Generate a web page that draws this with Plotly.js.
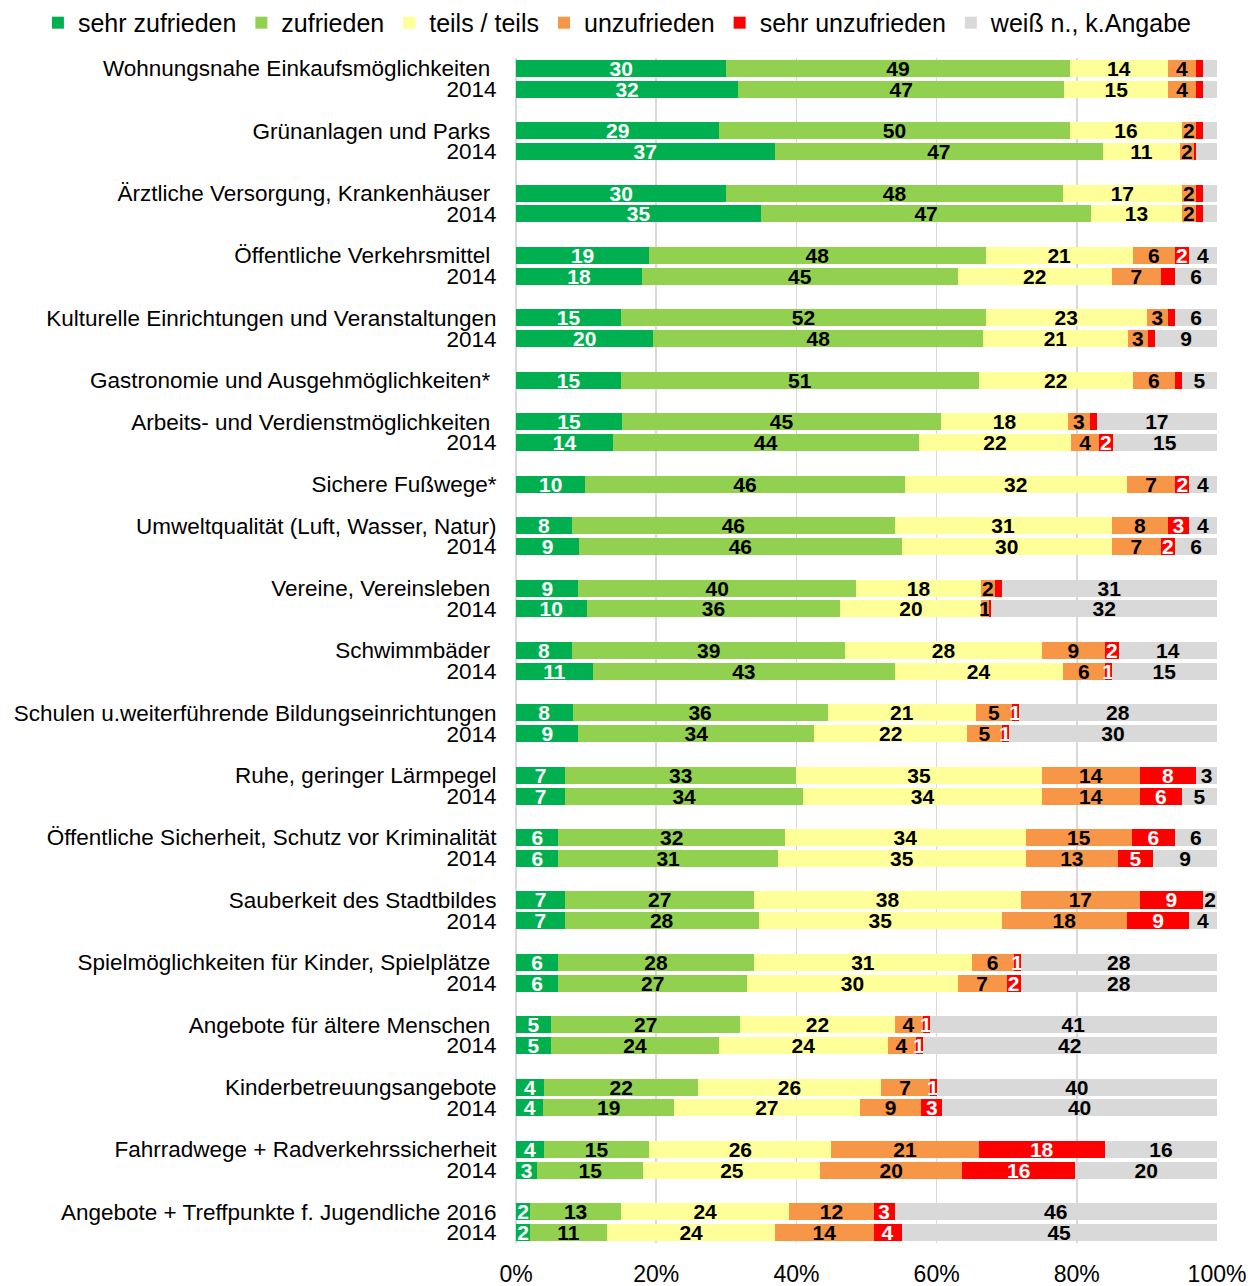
<!DOCTYPE html>
<html>
<head>
<meta charset="utf-8">
<script src="https://cdn.plot.ly/plotly-3.0.1.min.js"></script>
<style>
  html, body { margin: 0; padding: 0; background: #ffffff; }
  #chart { width: 1253px; height: 1286px; }
</style>
</head>
<body>
<div id="chart"></div>
<script>
// ---------- DATA ----------
const categoryNames = [
  'Wohnungsnahe Einkaufsmöglichkeiten\u00a0',
  'Grünanlagen und Parks\u00a0',
  'Ärztliche Versorgung, Krankenhäuser\u00a0',
  'Öffentliche Verkehrsmittel\u00a0',
  'Kulturelle Einrichtungen und Veranstaltungen',
  'Gastronomie und Ausgehmöglichkeiten*\u00a0',
  'Arbeits- und Verdienstmöglichkeiten\u00a0',
  'Sichere Fußwege*',
  'Umweltqualität (Luft, Wasser, Natur)',
  'Vereine, Vereinsleben\u00a0',
  'Schwimmbäder\u00a0',
  'Schulen u.weiterführende Bildungseinrichtungen',
  'Ruhe, geringer Lärmpegel',
  'Öffentliche Sicherheit, Schutz vor Kriminalität',
  'Sauberkeit des Stadtbildes',
  'Spielmöglichkeiten für Kinder, Spielplätze\u00a0',
  'Angebote für ältere Menschen\u00a0',
  'Kinderbetreuungsangebote',
  'Fahrradwege + Radverkehrssicherheit',
  'Angebote + Treffpunkte f. Jugendliche 2016'
];
// whether a 2014 comparison row exists for the category
const has2014 = [1,1,1,1,1,0,1,0,1,1,1,1,1,1,1,1,1,1,1,1];
const previousYearLabel = '2014';

const seriesNames = ['sehr zufrieden','zufrieden','teils / teils','unzufrieden','sehr unzufrieden','weiß n., k.Angabe'];

// one value per bar row: the 2016 row of each category, followed by its 2014 row (if any)
const sehrZufrieden   = [30,32, 29,37, 30,35, 19,18, 15,20, 15, 15,14, 10, 8,9, 9,10, 8,11, 8,9, 7,7, 6,6, 7,7, 6,6, 5,5, 4,4, 4,3, 2,2];
const zufrieden       = [49,47, 50,47, 48,47, 48,45, 52,48, 51, 45,44, 46, 46,46, 40,36, 39,43, 36,34, 33,34, 32,31, 27,28, 28,27, 27,24, 22,19, 15,15, 13,11];
const teilsTeils      = [14,15, 16,11, 17,13, 21,22, 23,21, 22, 18,22, 32, 31,30, 18,20, 28,24, 21,22, 35,34, 34,35, 38,35, 31,30, 22,24, 26,27, 26,25, 24,24];
const unzufrieden     = [4,4, 2,2, 2,2, 6,7, 3,3, 6, 3,4, 7, 8,7, 2,1, 9,6, 5,5, 14,14, 15,13, 17,18, 6,7, 4,4, 7,9, 21,20, 12,14];
const sehrUnzufrieden = [1,1, 1,0.3, 1,1, 2,2, 1,1, 1, 1,2, 2, 3,2, 1,0.4, 2,1, 1,1, 8,6, 6,5, 9,9, 1,2, 1,1, 1,3, 18,16, 3,4];
const weissNicht      = [2,2, 2,3, 2,2, 4,6, 6,9, 5, 17,15, 4, 4,6, 31,32, 14,15, 28,30, 3,5, 6,9, 2,4, 28,28, 41,42, 40,40, 16,20, 46,45];

// which value labels are printed in the original (1 = shown)
const sehrUnzufriedenShown = [0,0, 0,0, 0,0, 1,0, 0,0, 0, 0,1, 1, 1,1, 0,0, 1,1, 1,1, 1,1, 1,1, 1,1, 1,1, 1,1, 1,1, 1,1, 1,1];
const weissNichtShown      = [0,0, 0,0, 0,0, 1,1, 1,1, 1, 1,1, 1, 1,1, 1,1, 1,1, 1,1, 1,1, 1,1, 1,1, 1,1, 1,1, 1,1, 1,1, 1,1];

const xTickValues = [0, 20, 40, 60, 80, 100];
const xTickLabels = ['0%', '20%', '40%', '60%', '80%', '100%'];

// ---------- STYLE ----------
const colors = ['#00B050','#92D050','#FFFF99','#F79646','#FF0000','#D9D9D9'];
const labelColors = ['#ffffff','#000000','#000000','#000000','#ffffff','#000000'];
const baseFont = 'Liberation Sans, Arial, sans-serif';

// ---------- BUILD ROWS ----------
const yPos = [];
const tickText = [];
let slot = 0;
categoryNames.forEach((name, i) => {
  yPos.push(slot); tickText.push(name); slot++;
  if (has2014[i]) { yPos.push(slot); tickText.push(previousYearLabel); slot++; }
  slot++; // blank gap row
});
const lastSlot = yPos[yPos.length - 1];

const seriesValues = [sehrZufrieden, zufrieden, teilsTeils, unzufrieden, sehrUnzufrieden, weissNicht];
const seriesShown = [null, null, null, null, sehrUnzufriedenShown, weissNichtShown];

const traces = seriesValues.map((vals, k) => ({
  type: 'bar',
  orientation: 'h',
  name: seriesNames[k],
  x: vals,
  y: yPos,
  text: vals.map((v, i) => (seriesShown[k] && !seriesShown[k][i]) ? '' : String(Math.round(v))),
  textposition: 'inside',
  insidetextanchor: 'middle',
  textangle: 0,
  constraintext: 'none',
  cliponaxis: false,
  textfont: { family: baseFont, size: 21, color: labelColors[k], weight: 700 },
  marker: { color: colors[k], line: { width: 0 } },
  hoverinfo: 'x+name'
}));

const layout = {
  width: 1253,
  height: 1286,
  margin: { l: 516, r: 36, t: 58, b: 43, autoexpand: false },
  paper_bgcolor: '#ffffff',
  plot_bgcolor: '#ffffff',
  barmode: 'stack',
  barnorm: 'percent',
  bargap: 0.18,
  showlegend: true,
  legend: {
    orientation: 'h',
    traceorder: 'normal',
    x: -0.682, xanchor: 'left',
    y: 1.049, yanchor: 'top',
    bgcolor: 'rgba(0,0,0,0)',
    font: { family: baseFont, size: 25, color: '#000000' },
    itemclick: false, itemdoubleclick: false,
    tracegroupgap: 0
  },
  xaxis: {
    range: [0, 100.0005],
    tickmode: 'array',
    tickvals: xTickValues,
    ticktext: xTickLabels,
    showgrid: true,
    gridcolor: '#D9D9D9',
    gridwidth: 1.5,
    zeroline: true,
    zerolinecolor: '#D9D9D9',
    zerolinewidth: 1.5,
    showline: false,
    ticks: 'outside',
    ticklen: 10,
    tickcolor: 'rgba(0,0,0,0)',
    tickfont: { family: baseFont, size: 23, color: '#000000' },
    fixedrange: true
  },
  yaxis: {
    range: [lastSlot + 0.5, -0.5],
    tickmode: 'array',
    tickvals: yPos,
    ticktext: tickText,
    showgrid: false,
    zeroline: false,
    showline: false,
    ticks: 'outside',
    ticklen: 14,
    tickcolor: 'rgba(0,0,0,0)',
    tickfont: { family: baseFont, size: 22.5, color: '#000000' },
    fixedrange: true
  }
};

Plotly.newPlot('chart', traces, layout, { displayModeBar: false, staticPlot: true });
</script>
</body>
</html>
